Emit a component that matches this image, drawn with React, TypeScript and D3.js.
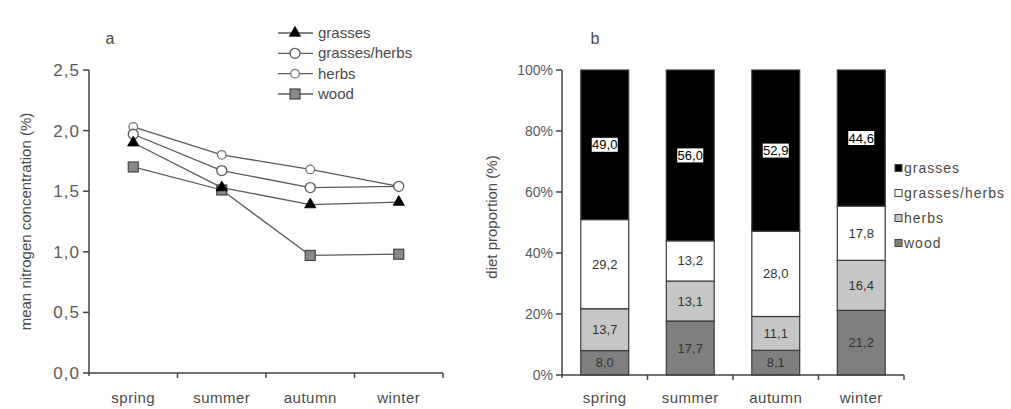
import * as d3 from "d3";

const seasons = ["spring", "summer", "autumn", "winter"];

// panel a: mean nitrogen concentration (%)
const nGrasses = [1.9, 1.53, 1.39, 1.41];
const nGrassesHerbs = [1.97, 1.67, 1.53, 1.54];
const nHerbs = [2.03, 1.8, 1.68, 1.54];
const nWood = [1.7, 1.51, 0.97, 0.98];
const nTicks = [0, 0.5, 1, 1.5, 2, 2.5];

// panel b: diet proportion (%)
const dietWood = [8.0, 17.7, 8.1, 21.2];
const dietHerbs = [13.7, 13.1, 11.1, 16.4];
const dietGrassesHerbs = [29.2, 13.2, 28.0, 17.8];
const dietGrasses = [49.0, 56.0, 52.9, 44.6];
const pctTicks = [0, 20, 40, 60, 80, 100];

const FONT = "'Liberation Sans', Arial, sans-serif";
const TXT = "#4a4a4a";
const AXIS = "#444";
const LINE = "#5a5a5a";

const fmtComma = (v: number, d = 1) => d3.format(`.${d}f`)(v).replace(".", ",");

type Series = { name: string; values: number[]; marker: string };
const lineSeries: Series[] = [
  { name: "grasses", values: nGrasses, marker: "triangle" },
  { name: "grasses/herbs", values: nGrassesHerbs, marker: "circle" },
  { name: "herbs", values: nHerbs, marker: "smallcircle" },
  { name: "wood", values: nWood, marker: "square" },
];

function Marker({ type, x, y }: { type: string; x: number; y: number }) {
  if (type === "triangle") {
    const p = d3.symbol(d3.symbolTriangle, 55)();
    return <path d={p!} transform={`translate(${x},${y})`} fill="#000" stroke="#000" strokeWidth={0.8} />;
  }
  if (type === "circle")
    return <circle cx={x} cy={y} r={5} fill="#fff" stroke={LINE} strokeWidth={1.3} />;
  if (type === "smallcircle")
    return <circle cx={x} cy={y} r={4.3} fill="#fff" stroke="#777" strokeWidth={1.3} />;
  return <rect x={x - 5} y={y - 5} width={10} height={10} fill="#888" stroke="#444" strokeWidth={1.2} />;
}

function PanelA() {
  const x = d3.scaleBand().domain(seasons).range([89, 443]);
  const y = d3.scaleLinear().domain([0, 2.5]).range([373, 70]);
  const cx = (s: string) => x(s)! + x.bandwidth() / 2;
  const line = d3
    .line<number>()
    .x((_, i) => cx(seasons[i]))
    .y((d) => y(d));
  const legendY = d3.scalePoint().domain(lineSeries.map((s) => s.name)).range([33, 94]);

  return (
    <g fontFamily={FONT}>
      <text x={110} y={44} fontSize={16} fill={TXT} textAnchor="middle">a</text>
      {/* axes */}
      <line x1={89} x2={89} y1={70} y2={376} stroke={AXIS} strokeWidth={1.5} />
      <line x1={89} x2={443} y1={y(0)} y2={y(0)} stroke={AXIS} strokeWidth={1.5} />
      {nTicks.map((t) => (
        <g key={t}>
          <line x1={83} x2={89} y1={y(t)} y2={y(t)} stroke={AXIS} strokeWidth={1.5} />
          <text x={80} y={y(t) + 6} fontSize={17} fill="#5a5a5a" textAnchor="end" letterSpacing={1}>
            {fmtComma(t)}
          </text>
        </g>
      ))}
      {seasons.map((s) => (
        <g key={s}>
          <line x1={x(s)! + x.bandwidth()} x2={x(s)! + x.bandwidth()} y1={y(0)} y2={y(0) + 5} stroke={AXIS} strokeWidth={1.5} />
          <text x={cx(s)} y={403} fontSize={15} fill={TXT} textAnchor="middle" letterSpacing={0.5}>
            {s}
          </text>
        </g>
      ))}
      <text
        transform={`translate(31,${(105 + 338) / 2}) rotate(-90)`}
        fontSize={15}
        fill={TXT}
        textAnchor="middle"
      >
        mean nitrogen concentration (%)
      </text>
      {/* series */}
      {lineSeries
        .slice()
        .reverse()
        .map((s) => (
          <g key={s.name}>
            <path d={line(s.values)!} fill="none" stroke={LINE} strokeWidth={1.3} />
            {s.values.map((v, i) => (
              <Marker key={i} type={s.marker} x={cx(seasons[i])} y={y(v)} />
            ))}
          </g>
        ))}
      {/* legend */}
      {lineSeries.map((s) => (
        <g key={s.name}>
          <line x1={278} x2={313} y1={legendY(s.name)} y2={legendY(s.name)} stroke={LINE} strokeWidth={1.3} />
          <Marker type={s.marker} x={295} y={legendY(s.name)!} />
          <text x={318} y={legendY(s.name)! + 5} fontSize={15} fill={TXT}>
            {s.name}
          </text>
        </g>
      ))}
    </g>
  );
}

const dietKeys = ["wood", "herbs", "grassesHerbs", "grasses"];
const dietColors: Record<string, string> = {
  wood: "#7f7f7f",
  herbs: "#c6c6c6",
  grassesHerbs: "#ffffff",
  grasses: "#000000",
};
const legendItems = [
  { key: "grasses", label: "grasses" },
  { key: "grassesHerbs", label: "grasses/herbs" },
  { key: "herbs", label: "herbs" },
  { key: "wood", label: "wood" },
];

function PanelB() {
  const rows = seasons.map((s, i) => ({
    season: s,
    wood: dietWood[i],
    herbs: dietHerbs[i],
    grassesHerbs: dietGrassesHerbs[i],
    grasses: dietGrasses[i],
  }));
  const stacked = d3
    .stack<any>()
    .keys(dietKeys)
    .offset(d3.stackOffsetExpand)(rows);
  const x = d3.scaleBand().domain(seasons).range([562, 904]);
  const y = d3.scaleLinear().domain([0, 100]).range([375, 70]);
  const bw = x.bandwidth() * 0.56;
  const legendY = d3.scalePoint().domain(legendItems.map((d) => d.key)).range([168, 243]);

  return (
    <g fontFamily={FONT}>
      <text x={595} y={44} fontSize={16} fill={TXT} textAnchor="middle">b</text>
      {stacked.map((layer) => (
        <g key={layer.key}>
          {layer.map((d, i) => {
            const s = seasons[i];
            const bx = x(s)! + (x.bandwidth() - bw) / 2;
            const y0 = y(d[0] * 100);
            const y1 = y(d[1] * 100);
            const value = rows[i][layer.key as "wood"];
            const label = fmtComma(value);
            const mid = (y0 + y1) / 2;
            const isGrass = layer.key === "grasses";
            return (
              <g key={s}>
                <rect x={bx} y={y1} width={bw} height={y0 - y1} fill={dietColors[layer.key]} stroke="#3a3a3a" strokeWidth={1.2} />
                {isGrass && <rect x={bx + bw / 2 - 13} y={mid - 7} width={26} height={14} fill="#fff" />}
                <text
                  x={bx + bw / 2}
                  y={mid + 4.5}
                  fontSize={13}
                  fill={isGrass ? "#000" : "#333"}
                  textAnchor="middle"
                >
                  {label}
                </text>
              </g>
            );
          })}
        </g>
      ))}
      {/* axes */}
      <line x1={562} x2={562} y1={70} y2={378} stroke={AXIS} strokeWidth={1.5} />
      <line x1={562} x2={904} y1={y(0)} y2={y(0)} stroke={AXIS} strokeWidth={1.5} />
      {pctTicks.map((t) => (
        <g key={t}>
          <line x1={556} x2={562} y1={y(t)} y2={y(t)} stroke={AXIS} strokeWidth={1.5} />
          <text x={553} y={y(t) + 5} fontSize={14} fill="#5a5a5a" textAnchor="end">
            {t}%
          </text>
        </g>
      ))}
      {seasons.map((s) => (
        <g key={s}>
          <line x1={x(s)! + x.bandwidth()} x2={x(s)! + x.bandwidth()} y1={y(0)} y2={y(0) + 5} stroke={AXIS} strokeWidth={1.5} />
          <text x={x(s)! + x.bandwidth() / 2} y={403} fontSize={15} fill={TXT} textAnchor="middle" letterSpacing={0.5}>
            {s}
          </text>
        </g>
      ))}
      <text transform={`translate(497,217) rotate(-90)`} fontSize={15} fill={TXT} textAnchor="middle">
        diet proportion (%)
      </text>
      {/* legend */}
      {legendItems.map((d) => (
        <g key={d.key}>
          <rect x={895} y={legendY(d.key)! - 3.5} width={7} height={7} fill={dietColors[d.key]} stroke="#444" strokeWidth={1} />
          <text x={904} y={legendY(d.key)! + 5} fontSize={14} fill={TXT} letterSpacing={1}>
            {d.label}
          </text>
        </g>
      ))}
    </g>
  );
}

export default function App() {
  return (
    <svg
      width={1011}
      height={409}
      viewBox="0 0 1011 409"
      style={{ position: "absolute", left: 0, top: 0, display: "block", background: "#fff" }}
    >
      <PanelA />
      <PanelB />
    </svg>
  );
}
